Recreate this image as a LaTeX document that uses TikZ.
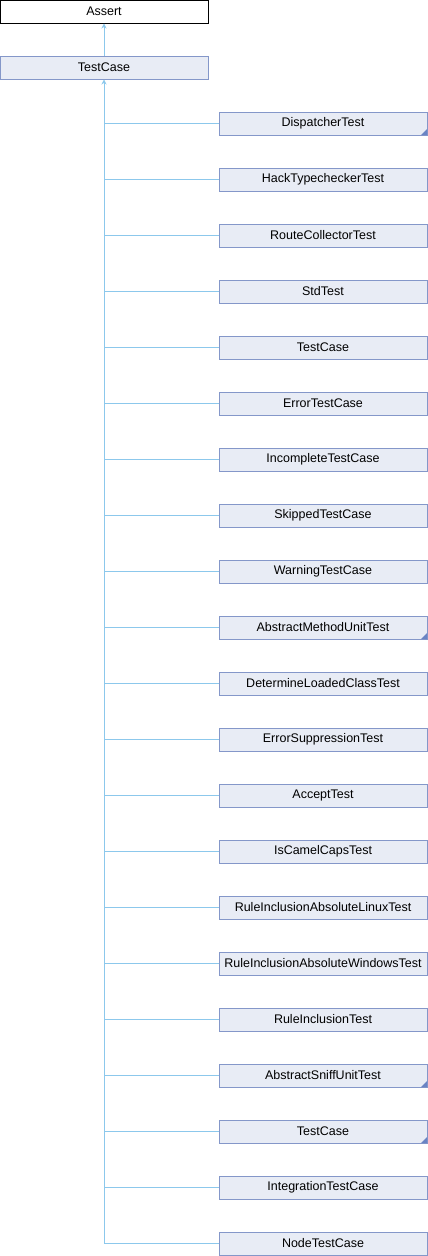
\documentclass[tikz,border=0pt]{standalone}
\usepackage{fontspec}
\setmainfont{Liberation Sans}
\usetikzlibrary{arrows.meta}
\definecolor{boxfill}{HTML}{E8ECF5}
\definecolor{boxline}{HTML}{8497C9}
\definecolor{linkline}{HTML}{8CC8EC}
\definecolor{cornerblue}{HTML}{6A84C4}
\tikzset{
  cls/.style={draw=boxline, fill=boxfill, line width=1pt, minimum width=208pt,
    minimum height=23pt, inner sep=0pt, font=\fontsize{12.5}{14}\selectfont},
  rootcls/.style={cls, draw=black, fill=white},
  inh/.style={draw=linkline, line width=1pt},
  inharrow/.style={inh, -{Stealth[length=5pt,width=5pt]}},
}
\newcommand{\cornermark}[1]{%
  \fill[cornerblue] ([xshift=-0.5pt,yshift=0.5pt]#1.south east) -- ++(0,6pt) -- ++(-6pt,-6pt) -- cycle;}
\begin{document}
\begin{tikzpicture}[x=1pt,y=-1pt]
\useasboundingbox (0,0) rectangle (428,1256);
\node[rootcls] (assert) at (104,11.5) {Assert};
\node[cls] (base) at (104,67.5) {TestCase};
\draw[inharrow] (base.north) -- (assert.south);
\foreach [count=\i from 0] \name/\lab in {
  c1/DispatcherTest, c2/HackTypecheckerTest, c3/RouteCollectorTest, c4/StdTest,
  c5/TestCase, c6/ErrorTestCase, c7/IncompleteTestCase, c8/SkippedTestCase,
  c9/WarningTestCase, c10/AbstractMethodUnitTest, c11/DetermineLoadedClassTest,
  c12/ErrorSuppressionTest, c13/AcceptTest, c14/IsCamelCapsTest,
  c15/RuleInclusionAbsoluteLinuxTest, c16/RuleInclusionAbsoluteWindowsTest,
  c17/RuleInclusionTest, c18/AbstractSniffUnitTest, c19/TestCase,
  c20/IntegrationTestCase, c21/NodeTestCase} {
  \node[cls] (\name) at (323,123.5+56*\i) {\lab};
  \draw[inh] (\name.west) -- (104,123.5+56*\i);
}
\draw[inharrow] (104,123.5+56*20) -- (base.south);
\cornermark{c1}
\cornermark{c10}
\cornermark{c18}
\cornermark{c19}
\end{tikzpicture}
\end{document}
